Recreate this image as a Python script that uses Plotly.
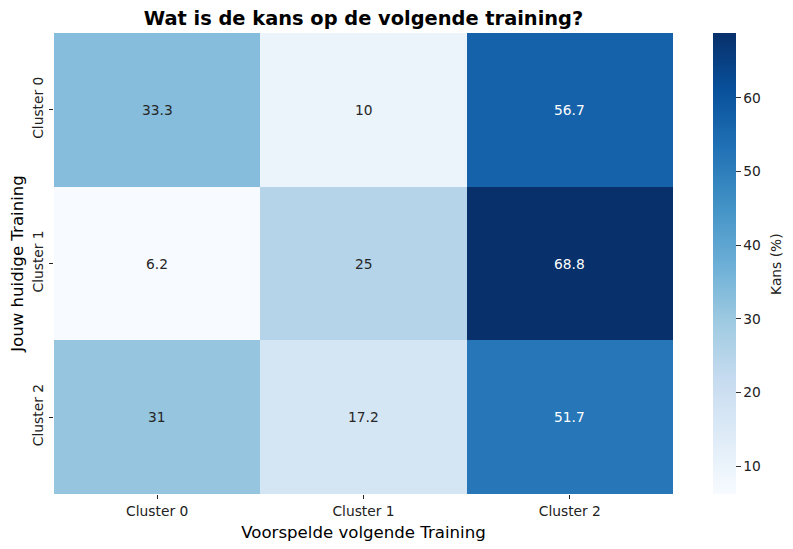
import plotly.graph_objects as go

x_labels = ["Cluster 0", "Cluster 1", "Cluster 2"]
y_labels = ["Cluster 0", "Cluster 1", "Cluster 2"]
row_c0 = [33.3, 10, 56.7]
row_c1 = [6.2, 25, 68.8]
row_c2 = [31, 17.2, 51.7]
z = [row_c0, row_c1, row_c2]

blues = [
    [0.0, "#f7fbff"], [0.125, "#deebf7"], [0.25, "#c6dbef"], [0.375, "#9ecae1"],
    [0.5, "#6baed6"], [0.625, "#4292c6"], [0.75, "#2171b5"], [0.875, "#08519c"],
    [1.0, "#08306b"],
]

zmin = min(min(r) for r in z)
zmax = max(max(r) for r in z)

TICK = 13.8
W, H = 785, 541

fig = go.Figure(go.Heatmap(
    z=z, x=x_labels, y=y_labels, colorscale=blues, zmin=zmin, zmax=zmax,
    hoverinfo="skip",
    colorbar=dict(
        thickness=23, len=1.0, lenmode="fraction", y=0.5, yanchor="middle", ypad=0,
        x=1.0646, xanchor="left", xpad=0, outlinewidth=0,
        ticks="outside", ticklen=5, tickcolor="#333", tickwidth=1,
        tickvals=[10, 20, 30, 40, 50, 60],
        tickfont=dict(size=TICK, color="#222"),
    ),
))

annotations = []
for yi, row in zip(y_labels, z):
    for xi, v in zip(x_labels, row):
        frac = (v - zmin) / (zmax - zmin)
        col = "white" if frac > 0.6 else "#262626"
        annotations.append(dict(x=xi, y=yi, text=f"{v:g}", showarrow=False,
                                font=dict(size=TICK, color=col)))
annotations.append(dict(text="Kans (%)", xref="paper", yref="paper", x=1.1664, y=0.497,
                        xanchor="center", yanchor="middle", textangle=-90, showarrow=False,
                        font=dict(size=TICK, color="#222")))

fig.update_layout(
    width=W, height=H,
    margin=dict(l=46, r=120, t=25, b=55, autoexpand=False),
    paper_bgcolor="white", plot_bgcolor="white",
    font=dict(family="DejaVu Sans", color="#222"),
    title=dict(text="<b>Wat is de kans op de volgende training?</b>", x=0.5, xref="paper",
               xanchor="center", y=1 - 10 / H, yanchor="middle",
               font=dict(size=19.4, color="black")),
    annotations=annotations,
    xaxis=dict(title=dict(text="Voorspelde volgende Training", font=dict(size=16.6, color="black"), standoff=8),
               ticks="outside", ticklen=4, tickcolor="#222", showgrid=False, zeroline=False,
               automargin=False, tickfont=dict(size=TICK, color="#222")),
    yaxis=dict(title=dict(text="Jouw huidige Training", font=dict(size=16.6, color="black"), standoff=8),
               autorange="reversed", ticks="outside", ticklen=4, tickcolor="#222", tickangle=-90,
               showgrid=False, zeroline=False, automargin=False,
               tickfont=dict(size=TICK, color="#222")),
)

fig.write_html("out.html")
